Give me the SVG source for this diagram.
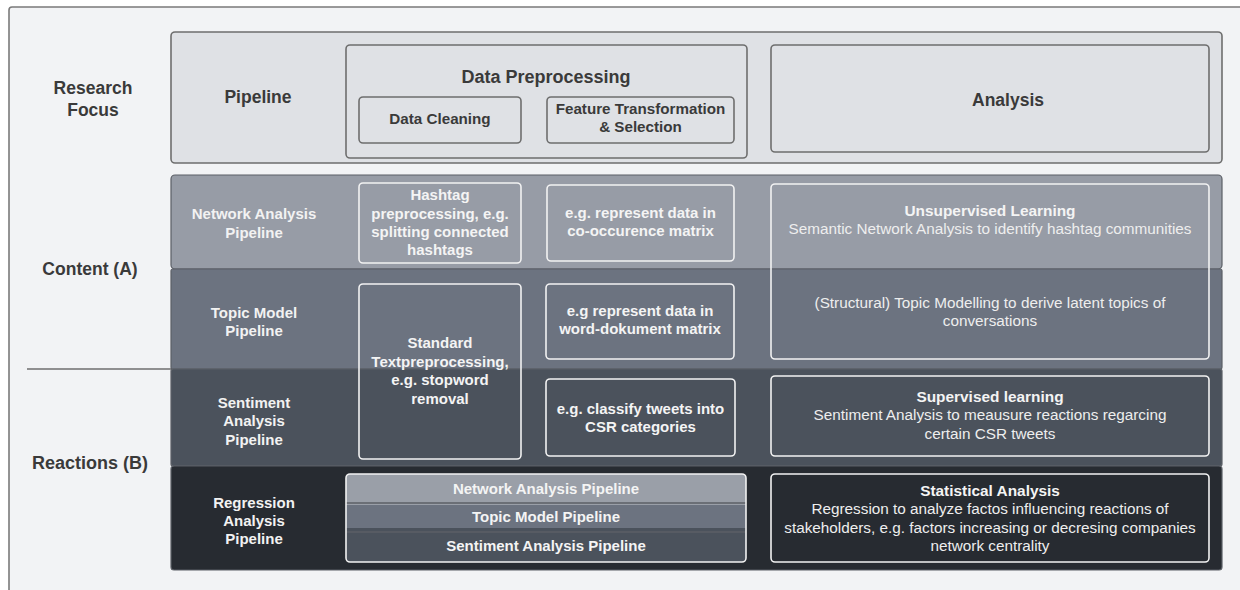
<svg xmlns="http://www.w3.org/2000/svg" width="1240" height="590" viewBox="0 0 1240 590">
  <style>
    text { font-family: "Liberation Sans", Arial, sans-serif; text-anchor: middle; dominant-baseline: central; }
    .hd { font-weight: bold; font-size: 17.5px; fill: #3a3a3a; }
    .hs { font-weight: bold; font-size: 15.2px; fill: #3a3a3a; }
    .hbox { fill: #dfe1e5; stroke: #6e6e6e; stroke-width: 1.6; }
    .row { stroke: #5b5f66; stroke-width: 1.2; }
    .lbl { font-weight: bold; font-size: 15px; fill: #f2f2f2; }
    .bt { font-weight: bold; font-size: 15px; fill: #f4f4f4; }
    .ds { font-size: 15.3px; fill: #eeeeee; }
    .dt { font-weight: bold; font-size: 15.4px; fill: #f4f4f4; }
    .wbox { fill: none; stroke: #f2f2f2; stroke-width: 1.6; }
  </style>

  <rect id="frame" x="9" y="7" width="1250" height="600" rx="3" fill="#f2f3f5" stroke="#7a7a7a" stroke-width="1.6"/>

  <g id="side-labels">
    <text class="hd" x="93" y="88">Research</text>
    <text class="hd" x="93" y="110">Focus</text>
    <text class="hd" x="90" y="269">Content (A)</text>
    <text class="hd" x="90" y="463" style="font-size:18px">Reactions (B)</text>
    <line x1="27" y1="369" x2="172" y2="369" stroke="#6e6e6e" stroke-width="1.6"/>
  </g>

  <g id="header">
    <rect class="hbox" x="171" y="32" width="1051" height="131" rx="4"/>
    <text class="hd" x="258" y="97">Pipeline</text>
  </g>
  <g id="data-preprocessing">
    <rect class="hbox" x="346" y="45" width="401" height="113" rx="4"/>
    <text class="hd" x="546" y="77" style="font-size:18px">Data Preprocessing</text>
  </g>
  <g id="data-cleaning">
    <rect class="hbox" x="359" y="97" width="162" height="46" rx="4"/>
    <text class="hs" x="440" y="118">Data Cleaning</text>
  </g>
  <g id="feature-transformation">
    <rect class="hbox" x="547" y="97" width="187" height="46" rx="4"/>
    <text class="hs" x="640.5" y="108">Feature Transformation</text>
    <text class="hs" x="640.5" y="126">&amp; Selection</text>
  </g>
  <g id="analysis">
    <rect class="hbox" x="771" y="45" width="438" height="107" rx="4"/>
    <text class="hd" x="1008" y="100">Analysis</text>
  </g>

  <g id="row-network">
    <rect class="row" x="171" y="175" width="1051" height="94" rx="4" fill="#979ca6"/>
    <text class="lbl" x="254" y="213">Network Analysis</text>
    <text class="lbl" x="254" y="232">Pipeline</text>
  </g>
  <g id="row-topic">
    <rect class="row" x="171" y="269" width="1051" height="100" rx="2" fill="#6c7380"/>
    <text class="lbl" x="254" y="312">Topic Model</text>
    <text class="lbl" x="254" y="330">Pipeline</text>
  </g>
  <g id="row-sentiment">
    <rect class="row" x="171" y="369" width="1051" height="97" rx="2" fill="#4b525c"/>
    <text class="lbl" x="254" y="402">Sentiment</text>
    <text class="lbl" x="254" y="420">Analysis</text>
    <text class="lbl" x="254" y="439">Pipeline</text>
  </g>
  <g id="row-regression">
    <rect class="row" x="171" y="466" width="1051" height="104" rx="3" fill="#272b31"/>
    <text class="lbl" x="254" y="502">Regression</text>
    <text class="lbl" x="254" y="520">Analysis</text>
    <text class="lbl" x="254" y="538">Pipeline</text>
  </g>

  <g id="hashtag-preprocessing">
    <rect class="wbox" x="359" y="183" width="162" height="80" rx="4"/>
    <text class="bt" x="440" y="194">Hashtag</text>
    <text class="bt" x="440" y="213">preprocessing, e.g.</text>
    <text class="bt" x="440" y="231">splitting connected</text>
    <text class="bt" x="440" y="249">hashtags</text>
  </g>
  <g id="co-occurence">
    <rect class="wbox" x="547" y="185" width="187" height="76" rx="4"/>
    <text class="bt" x="640.5" y="212">e.g. represent data in</text>
    <text class="bt" x="640.5" y="230">co-occurence matrix</text>
  </g>
  <g id="standard-textpreprocessing">
    <rect class="wbox" x="359" y="284" width="162" height="175" rx="4"/>
    <text class="bt" x="440" y="342">Standard</text>
    <text class="bt" x="440" y="361">Textpreprocessing,</text>
    <text class="bt" x="440" y="379">e.g. stopword</text>
    <text class="bt" x="440" y="398">removal</text>
  </g>
  <g id="word-dokument">
    <rect class="wbox" x="546" y="284" width="188" height="75" rx="4"/>
    <text class="bt" x="640" y="310">e.g represent data in</text>
    <text class="bt" x="640" y="328">word-dokument matrix</text>
  </g>
  <g id="classify-tweets">
    <rect class="wbox" x="546" y="379" width="189" height="77" rx="4"/>
    <text class="bt" x="640.5" y="408">e.g. classify tweets into</text>
    <text class="bt" x="640.5" y="426">CSR categories</text>
  </g>

  <g id="unsupervised-learning">
    <rect class="wbox" x="771" y="184" width="438" height="175" rx="4"/>
    <text class="dt" x="990" y="210">Unsupervised Learning</text>
    <text class="ds" x="990" y="228">Semantic Network Analysis to identify hashtag communities</text>
    <text class="ds" x="990" y="302">(Structural) Topic Modelling to derive latent topics of</text>
    <text class="ds" x="990" y="320">conversations</text>
  </g>
  <g id="supervised-learning">
    <rect class="wbox" x="771" y="376" width="438" height="80" rx="4"/>
    <text class="dt" x="990" y="396">Supervised learning</text>
    <text class="ds" x="990" y="414">Sentiment Analysis to meausure reactions regarcing</text>
    <text class="ds" x="990" y="433">certain CSR tweets</text>
  </g>

  <g id="pipeline-stack">
    <rect x="346" y="474" width="400" height="29" rx="4" fill="#9a9fa8"/>
    <rect x="346" y="503" width="400" height="29" fill="#6c7380"/>
    <rect x="346" y="532" width="400" height="30" rx="4" fill="#4b525c"/>
    <rect x="346" y="528" width="400" height="8" fill="#4b525c"/>
    <rect x="346" y="499" width="400" height="6" fill="#9a9fa8"/>
    <line x1="346" y1="503" x2="746" y2="503" stroke="#5b5f66" stroke-width="1.5"/>
    <line x1="346" y1="532" x2="746" y2="532" stroke="#5b5f66" stroke-width="1.5"/>
    <rect class="wbox" x="346" y="474" width="400" height="88" rx="4"/>
    <text class="bt" x="546" y="488">Network Analysis Pipeline</text>
    <text class="bt" x="546" y="516">Topic Model Pipeline</text>
    <text class="bt" x="546" y="545">Sentiment Analysis Pipeline</text>
  </g>
  <g id="statistical-analysis">
    <rect class="wbox" x="771" y="474" width="438" height="88" rx="4"/>
    <text class="dt" x="990" y="490">Statistical Analysis</text>
    <text class="ds" x="990" y="508">Regression to analyze factos influencing reactions of</text>
    <text class="ds" x="990" y="527">stakeholders, e.g. factors increasing or decresing companies</text>
    <text class="ds" x="990" y="545">network centrality</text>
  </g>

  <g id="connectors"></g>
</svg>
